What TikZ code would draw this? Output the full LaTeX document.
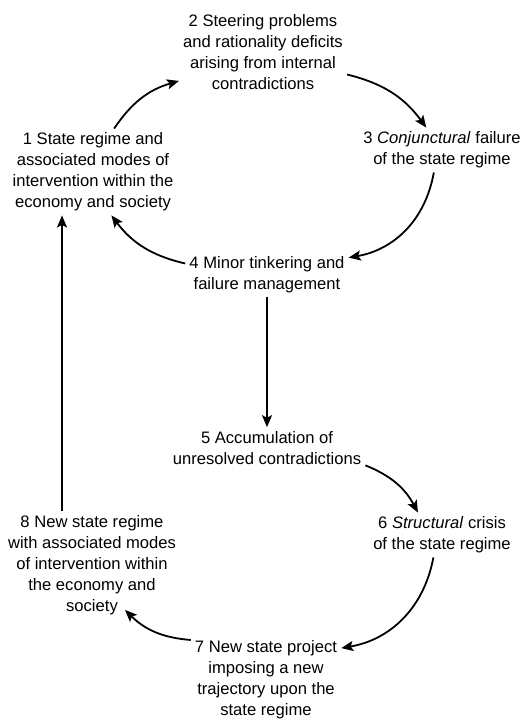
\documentclass[tikz,border=0pt]{standalone}
\usepackage{fontspec}
\setmainfont{Liberation Sans}
\usetikzlibrary{arrows.meta}

\begin{document}
\begin{tikzpicture}[x=1pt,y=1pt,
    font=\fontsize{16.6}{21}\selectfont,
    stage/.style={align=center,inner sep=4pt},
    flow/.style={-{Stealth[length=12pt,width=10pt,inset=2.5pt]},line width=1.8pt}]
  \useasboundingbox (0,0) rectangle (522,720);

  \node[stage] (regime) at (93,548) {1 State regime and\\
    associated modes of\\ intervention within the\\ economy and society};
  \node[stage] (steering) at (263,668) {2 Steering problems\\
    and rationality deficits\\ arising from internal\\ contradictions};
  \node[stage] (conjfail) at (442,570) {3 \textit{Conjunctural} failure\\
    of the state regime};
  \node[stage] (tinker) at (267,445) {4 Minor tinkering and\\
    failure management};
  \node[stage] (accum) at (267,272) {5 Accumulation of\\
    unresolved contradictions};
  \node[stage] (crisis) at (442,185) {6 \textit{Structural} crisis\\
    of the state regime};
  \node[stage] (project) at (266,40) {7 New state project\\
    imposing a new\\ trajectory upon the\\ state regime};
  \node[stage] (newregime) at (92,155) {8 New state regime\\
    with associated modes\\ of intervention within\\ the economy and\\ society};

  % upper cycle
  \draw[flow] (regime.64) to[bend left=20] (steering.199);
  \draw[flow] (steering.345) to[bend left=20] (conjfail.125);
  \draw[flow] (conjfail.250) to[bend left=35] (tinker.12);
  \draw[flow] (tinker.172) to[bend left=20] (regime.293);

  % lower cycle
  \draw[flow] (tinker.south) -- (accum.north);
  \draw[flow] (accum.350) to[bend left=20] (crisis.137);
  \draw[flow] (crisis.249) to[bend left=35] (project.23);
  \draw[flow] (project.152) to[bend left=20] ([shift={(33,9)}]newregime.south);
  \draw[flow] ([xshift=-30pt]newregime.north) -- ([xshift=-31pt]regime.south);
\end{tikzpicture}
\end{document}
